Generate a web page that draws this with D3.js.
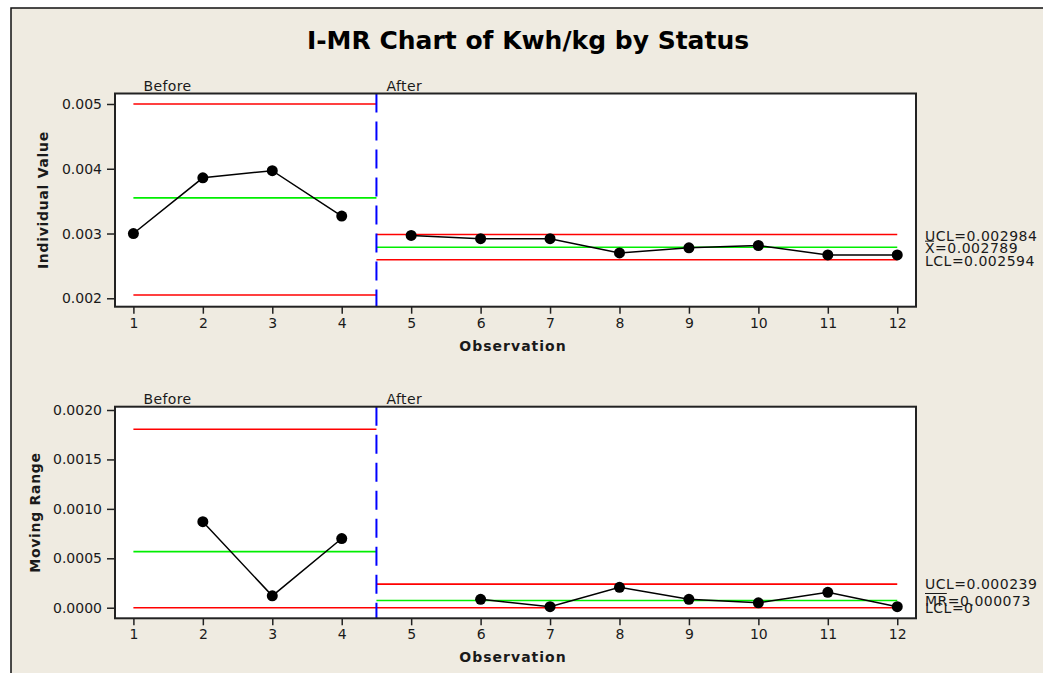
<!DOCTYPE html>
<html>
<head>
<meta charset="utf-8">
<script src="https://cdn.jsdelivr.net/npm/d3@7"></script>
<style>
  body { margin: 0; background: #fff; }
  text { font-family: "DejaVu Sans", Verdana, sans-serif; fill: #1a1a1a; }
</style>
</head>
<body>
<div id="chart"></div>
<script>
// Observations and stage of each one
const observations = [1, 2, 3, 4, 5, 6, 7, 8, 9, 10, 11, 12];
const individual = [0.00300, 0.00386, 0.00397, 0.00327, 0.00297, 0.00292, 0.00292, 0.00270, 0.00278, 0.002815, 0.00267, 0.00267];
// moving range (first point of each stage has none)
const movingRange = [null, 0.00087, 0.00012, 0.00070, null, 0.000085, 0.00001, 0.000206, 0.000085, 0.00005, 0.000156, 0.00001];

const stages = ["Before", "After"];
const stageStart = [1, 4.5];
const stageEnd = [4.5, 12];

// control limits per stage
const iUCL = [0.00500, 0.002984];
const iMean = [0.00355, 0.002789];
const iLCL = [0.00205, 0.002594];
const mrUCL = [0.001806, 0.000239];
const mrMean = [0.000567, 0.000073];
const mrLCL = [0, 0];

const iTicks = [0.002, 0.003, 0.004, 0.005];
const mrTicks = [0, 0.0005, 0.001, 0.0015, 0.002];

const width = 1043;
const height = 673;

const svg = d3.select("#chart")
  .append("svg")
  .attr("width", width)
  .attr("height", height);

// beige outer frame
svg.append("rect")
  .attr("x", 11).attr("y", 8)
  .attr("width", 1045).attr("height", 675)
  .attr("fill", "#EFEBE1")
  .attr("stroke", "#111")
  .attr("stroke-width", 1.5);

svg.append("text")
  .attr("x", 528).attr("y", 49)
  .attr("text-anchor", "middle")
  .style("font-size", "25px")
  .style("font-weight", "bold")
  .style("fill", "#000")
  .text("I-MR Chart of Kwh/kg by Status");

const x = d3.scaleLinear().domain([0.735, 12.27]).range([115, 916]);

function drawPanel(opts) {
  const { top, bottom, yDomain, ticks, tickFmt, values, ucl, mean, lcl, yTitle, titleX, labels } = opts;
  const y = d3.scaleLinear().domain(yDomain).range([bottom, top]);
  const g = svg.append("g");

  g.append("rect")
    .attr("x", 115).attr("y", top)
    .attr("width", 916 - 115).attr("height", bottom - top)
    .attr("fill", "#fff");

  // y axis
  const yAxis = g.append("g")
    .attr("transform", "translate(115,0)")
    .call(d3.axisLeft(y).tickValues(ticks).tickFormat(tickFmt).tickSize(8).tickPadding(5));
  yAxis.select(".domain").remove();
  yAxis.selectAll("line").attr("stroke", "#222").attr("stroke-width", 1.5);
  yAxis.selectAll("text").style("font-size", "14px").style("font-family", "DejaVu Sans").attr("fill", "#1a1a1a");

  // x axis
  const xAxis = g.append("g")
    .attr("transform", `translate(0,${bottom})`)
    .call(d3.axisBottom(x).tickValues(observations).tickFormat(d3.format("d")).tickSize(7).tickPadding(4));
  xAxis.select(".domain").remove();
  xAxis.selectAll("line").attr("stroke", "#222").attr("stroke-width", 1.5);
  xAxis.selectAll("text").style("font-size", "14px").style("font-family", "DejaVu Sans").attr("fill", "#1a1a1a");

  // limit lines per stage
  stages.forEach((s, i) => {
    const x1 = x(stageStart[i]), x2 = x(stageEnd[i]);
    [[ucl[i], "#FF0000"], [mean[i], "#00EE00"], [lcl[i], "#FF0000"]].forEach(([v, c]) => {
      g.append("line")
        .attr("x1", x1).attr("x2", x2)
        .attr("y1", y(v)).attr("y2", y(v))
        .attr("stroke", c).attr("stroke-width", 1.6);
    });
    g.append("text")
      .attr("x", x(stageStart[i]) + 10)
      .attr("y", top - 3)
      .style("font-size", "14px")
      .style("letter-spacing", "0.4px")
      .text(s);
  });

  // data lines, one path per stage
  stages.forEach((s, i) => {
    const pts = observations
      .map((o, k) => ({ o, v: values[k] }))
      .filter(d => d.v !== null && d.o >= stageStart[i] && d.o <= stageEnd[i]);
    g.append("path")
      .datum(pts)
      .attr("fill", "none")
      .attr("stroke", "#000")
      .attr("stroke-width", 1.5)
      .attr("d", d3.line().x(d => x(d.o)).y(d => y(d.v)));
    g.selectAll(null)
      .data(pts)
      .enter()
      .append("circle")
      .attr("cx", d => x(d.o))
      .attr("cy", d => y(d.v))
      .attr("r", 5.5)
      .attr("fill", "#000");
  });

  // stage separator
  g.append("line")
    .attr("x1", x(4.5)).attr("x2", x(4.5))
    .attr("y1", top).attr("y2", bottom)
    .attr("stroke", "#0000FF")
    .attr("stroke-width", 2)
    .attr("stroke-dasharray", "19,9");

  g.append("rect")
    .attr("x", 115).attr("y", top)
    .attr("width", 916 - 115).attr("height", bottom - top)
    .attr("fill", "none")
    .attr("stroke", "#222")
    .attr("stroke-width", 2);

  // axis titles
  g.append("text")
    .attr("x", 513).attr("y", bottom + 44)
    .attr("text-anchor", "middle")
    .style("font-size", "14px")
    .style("font-weight", "bold")
    .style("letter-spacing", "1px")
    .text("Observation");

  g.append("text")
    .attr("transform", `translate(${titleX},${(top + bottom) / 2}) rotate(-90)`)
    .attr("text-anchor", "middle")
    .style("font-size", "14px")
    .style("font-weight", "bold")
    .style("letter-spacing", "0.7px")
    .text(yTitle);

  // right-hand limit labels
  labels.forEach(l => {
    const t = g.append("text")
      .attr("x", 925)
      .attr("y", y(l.v) + (l.dy || 0))
      .attr("dy", "0.36em")
      .style("font-size", "14px")
      .style("letter-spacing", "0.5px")
      .text(l.text);
    if (l.bar) {
      const w = t.node().getSubStringLength(0, l.bar);
      const yy = y(l.v) + (l.dy || 0) - 7;
      g.append("line")
        .attr("x1", 925).attr("x2", 925 + w - 1)
        .attr("y1", yy).attr("y2", yy)
        .attr("stroke", "#1a1a1a").attr("stroke-width", 1);
    }
  });
}

drawPanel({
  top: 93.5, bottom: 306.7,
  yDomain: [0.00187, 0.005162],
  ticks: iTicks,
  tickFmt: d3.format(".3f"),
  values: individual,
  ucl: iUCL, mean: iMean, lcl: iLCL,
  yTitle: "Individual Value", titleX: 48,
  labels: [
    { v: iUCL[1], text: "UCL=" + iUCL[1], dy: 1 },
    { v: iMean[1], text: "X=" + iMean[1], bar: 1, dy: 1 },
    { v: iLCL[1], text: "LCL=" + iLCL[1], dy: 1 }
  ]
});

drawPanel({
  top: 406.7, bottom: 618.3,
  yDomain: [-0.000107, 0.0020334],
  ticks: mrTicks,
  tickFmt: d3.format(".4f"),
  values: movingRange,
  ucl: mrUCL, mean: mrMean, lcl: mrLCL,
  yTitle: "Moving Range", titleX: 40,
  labels: [
    { v: mrUCL[1], text: "UCL=0.000239" },
    { v: mrMean[1], text: "MR=0.000073", bar: 2 },
    { v: mrLCL[1], text: "LCL=0" }
  ]
});
</script>
</body>
</html>
